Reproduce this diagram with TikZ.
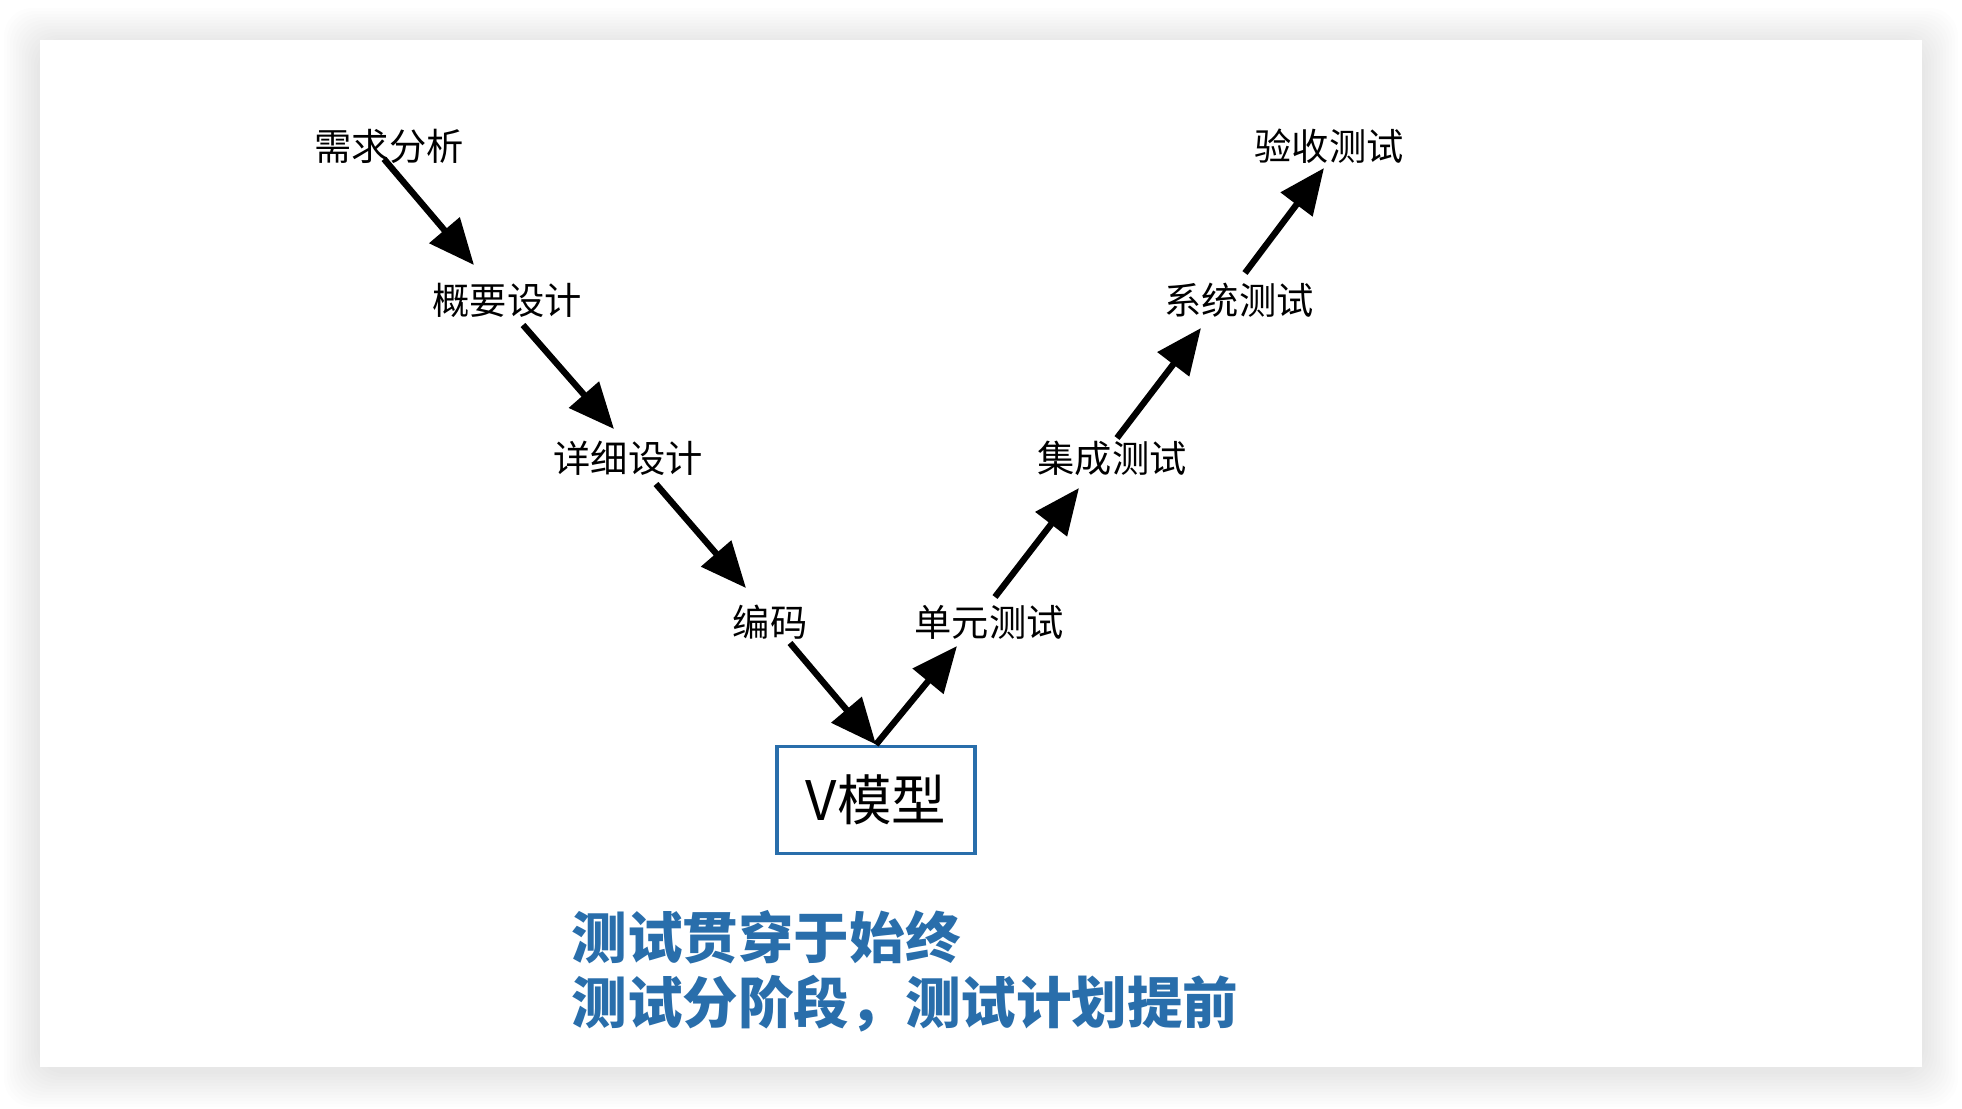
\documentclass[tikz,border=0pt]{standalone}
\usepackage{fontspec}
\setmainfont{Noto Sans CJK SC}
\usepackage{xcolor}
\usetikzlibrary{arrows.meta}
\definecolor{vblue}{RGB}{41,110,171}

\begin{document}
\begin{tikzpicture}[
  x=0.01cm, y=-0.01cm,
  stage/.style={font=\fontsize{10.6}{12}\selectfont, inner sep=0pt},
  modelbox/.style={rectangle, draw=vblue, line width=1.1pt, minimum width=1.98cm, minimum height=1.07cm, font=\fontsize{15.5}{18}\selectfont},
  arrow/.style={line width=1.8pt, -{Triangle[length=13pt, width=11pt]}}
]
  % page and slide
  \useasboundingbox (0,0) rectangle (1962,1108);
  \fill[white] (0,0) rectangle (1962,1108);
  \foreach \i in {1,...,12}
    \fill[black, opacity=0.007, rounded corners=8pt] (40-\i*3,40-\i*3+4) rectangle (1922+\i*3,1067+\i*3+4);
  \fill[white] (40,40) rectangle (1922,1067);

  % left branch
  \node[stage] (req) at (389,146) {需求分析};
  \node[stage] (gy)  at (507,300) {概要设计};
  \node[stage] (xx)  at (628,458) {详细设计};
  \node[stage] (bm)  at (770,622) {编码};
  % right branch
  \node[stage] (dy)  at (989,622) {单元测试};
  \node[stage] (jc)  at (1112,458) {集成测试};
  \node[stage] (xt)  at (1239,300) {系统测试};
  \node[stage] (ys)  at (1329,146) {验收测试};

  \node[modelbox] (vm) at (876,800) {V模型};

  \node[anchor=west, align=left, inner sep=0pt, text=vblue, font=\fontsize{15.8}{18.6}\selectfont\bfseries] (note) at (571,971)
    {测试贯穿于始终\\测试分阶段，测试计划提前};

  \draw[arrow] ([shift={(-5,13)}]req.center) -- ([shift={(-33,-35)}]gy.center);
  \draw[arrow] ([shift={(16,25)}]gy.center) -- ([shift={(-14,-29)}]xx.center);
  \draw[arrow] ([shift={(28,26)}]xx.center) -- ([shift={(-24,-34)}]bm.center);
  \draw[arrow] ([shift={(20,21)}]bm.center) -- (vm.north);
  \draw[arrow] (vm.north) -- ([shift={(-32,24)}]dy.center);
  \draw[arrow] ([shift={(6,-25)}]dy.center) -- ([shift={(-33,30)}]jc.center);
  \draw[arrow] ([shift={(5,-20)}]jc.center) -- ([shift={(-38,28)}]xt.center);
  \draw[arrow] ([shift={(6,-27)}]xt.center) -- ([shift={(-5,22)}]ys.center);
\end{tikzpicture}
\end{document}
